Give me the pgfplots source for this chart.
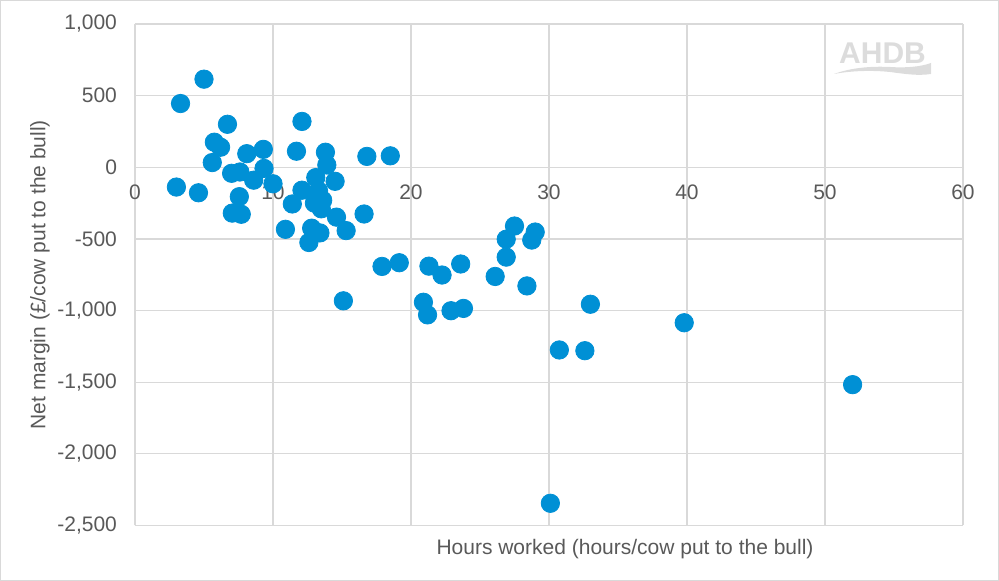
\documentclass[border=0pt]{standalone}
\usepackage{fontspec}
\setmainfont{Liberation Sans}
\usepackage{pgfplots}
\pgfplotsset{compat=1.18}

\definecolor{gridc}{HTML}{D9D9D9}
\definecolor{txtc}{HTML}{595959}
\definecolor{ptblue}{HTML}{0090D5}
\definecolor{logoc}{HTML}{DCDCDC}

% hours worked vs net margin, one row per farm
\pgfplotstableread{
x y
3.3 445
5.0 615
6.7 300
5.75 175
6.2 140
5.6 33
8.1 95
9.3 125
9.35 -8
7.0 -42
7.6 -33
8.6 -90
10.0 -115
3.0 -138
4.6 -178
7.56 -205
7.05 -320
7.7 -328
12.1 320
11.7 112
13.8 105
13.9 16
16.8 76
18.5 80
13.1 -72
14.5 -98
12.1 -160
13.3 -165
13.0 -250
13.6 -230
13.5 -290
11.4 -256
14.6 -348
16.6 -326
10.9 -433
12.8 -425
13.4 -458
15.3 -442
12.6 -525
15.1 -932
17.9 -692
19.15 -666
21.3 -690
22.25 -752
23.6 -675
20.9 -942
21.2 -1030
22.9 -1001
23.8 -985
26.1 -762
26.9 -627
26.9 -502
27.5 -410
28.4 -828
29.0 -452
28.75 -508
30.75 -1275
32.6 -1280
33.0 -956
39.8 -1085
52.0 -1517
30.1 -2345
}\farms

\begin{document}
\begin{tikzpicture}
% pixel frame: 1px = 0.5pt, origin at image top-left
\begin{scope}[shift={(-67.5pt,262.75pt)}, x=0.5pt, y=-0.5pt]
\useasboundingbox (0,0) rectangle (999,581);
\end{scope}

\begin{axis}[
  at={(0,0)}, anchor=south west,
  scale only axis, width=414pt, height=250.75pt,
  xmin=0, xmax=60, ymin=-2500, ymax=1000,
  xtick={0,10,...,60}, ytick={-2500,-2000,...,1000},
  axis x line=middle, axis y line=left,
  axis line style={draw=gridc, line width=0.6pt, -},
  grid=major, major grid style={draw=gridc, line width=0.6pt},
  major tick length=0pt,
  hide obscured x ticks=false, hide obscured y ticks=false,
  /pgf/number format/assume math mode=true,
  /pgf/number format/1000 sep={,},
  ticklabel style={font=\fontsize{10.5}{12}\selectfont, text=txtc},
  xticklabel style={yshift=-5pt},
  yticklabel style={xshift=-5.5pt},
  every axis x label/.style={at={(axis description cs:0.5918,-0.0469)}, anchor=center},
  every axis y label/.style={at={(axis description cs:-0.1147,0.5)}, anchor=center, rotate=90},
  label style={font=\fontsize{10.5}{12}\selectfont, text=txtc},
  xlabel={Hours worked (hours/cow put to the bull)},
  ylabel={Net margin (£/cow put to the bull)},
]
\addplot[only marks, mark=*, mark size=4.6pt, color=ptblue, mark options={draw=none, fill=ptblue}] table[x=x, y=y] {\farms};
\end{axis}

\begin{scope}[shift={(-67.5pt,262.75pt)}, x=0.5pt, y=-0.5pt]
\draw[gridc, line width=0.5pt] (0.5,0.5) rectangle (998.5,580.5);
% AHDB logo
\node[text=logoc, font=\bfseries\fontsize{15}{16}\selectfont, inner sep=0pt] at (882.5,53.5) {AHDB};
\fill[logoc] (834,74) .. controls (850,68) and (870,66) .. (890,67)
  .. controls (905,68) and (920,67) .. (931,63)
  -- (931,74) .. controls (918,76) and (905,74) .. (890,72)
  .. controls (870,70) and (850,71) .. (834,74) -- cycle;
\end{scope}
\end{tikzpicture}
\end{document}
